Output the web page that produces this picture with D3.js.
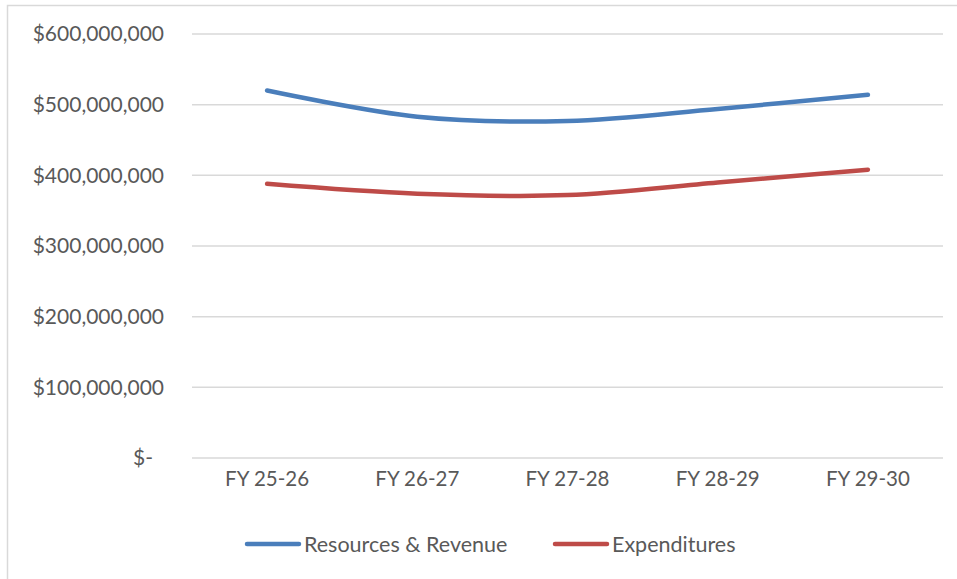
<!DOCTYPE html>
<html>
<head>
<meta charset="utf-8">
<script src="https://cdn.jsdelivr.net/npm/d3@7"></script>
<style>
body { margin: 0; background: #fff; }
text { font-family: Lato, "Open Sans", sans-serif; fill: #595959; }
</style>
</head>
<body>
<div id="chart"></div>
<script>
var years = ["FY 25-26", "FY 26-27", "FY 27-28", "FY 28-29", "FY 29-30"];
var revenue = [520000000, 483000000, 477000000, 494000000, 514000000];
var expenditures = [388000000, 374000000, 372000000, 390000000, 408000000];
var yTicks = [0, 100000000, 200000000, 300000000, 400000000, 500000000, 600000000];
var seriesNames = ["Resources & Revenue", "Expenditures"];
var seriesColors = ["#4a7ebb", "#be4b48"];

var width = 957,
height = 579,
margin = {top: 34, right: 14, bottom: 121, left: 192};

var svg = d3.select("#chart")
.append("svg")
.attr("width", width)
.attr("height", height);

// chart border (cut off at the right and bottom)
svg.append("rect")
.attr("x", 7.5).attr("y", 5.5)
.attr("width", 960).attr("height", 600)
.attr("fill", "none")
.attr("stroke", "#d9d9d9")
.attr("stroke-width", 1.5);

var g = svg.append("g")
.attr("transform", `translate(${margin.left},${margin.top})`);

var innerW = width - margin.left - margin.right,
innerH = height - margin.top - margin.bottom;

var xScale = d3.scaleBand().domain(years).range([0, innerW]);
var yScale = d3.scaleLinear().domain([0, 600000000]).range([innerH, 0]);

// gridlines
g.selectAll(".grid")
.data(yTicks)
.enter().append("line")
.attr("class", "grid")
.attr("x1", 0).attr("x2", innerW)
.attr("y1", d => yScale(d)).attr("y2", d => yScale(d))
.attr("stroke", "#d9d9d9")
.attr("stroke-width", 1.5);

var fmt = d3.format(",");

// y axis labels
var yAxis = d3.axisLeft(yScale)
.tickValues(yTicks)
.tickSize(0)
.tickPadding(28)
.tickFormat(d => d === 0 ? "$-" : "$" + fmt(d));
var ya = g.append("g").attr("class", "y axis").call(yAxis);
ya.select(".domain").remove();
ya.selectAll("text")
.attr("font-size", 21)
.attr("font-family", "Lato")
.attr("fill", "#595959")
.attr("dx", d => d === 0 ? -11 : 0);

// x axis labels
var xAxis = d3.axisBottom(xScale).tickSize(0).tickPadding(13);
var xa = g.append("g").attr("class", "x axis")
.attr("transform", `translate(0,${innerH})`)
.call(xAxis);
xa.select(".domain").remove();
xa.selectAll("text")
.attr("font-size", 20.5)
.attr("font-family", "Lato")
.attr("fill", "#595959");

var line = d3.line()
.x((d, i) => xScale(years[i]) + xScale.bandwidth() / 2)
.y(d => yScale(d))
.curve(d3.curveCatmullRom.alpha(0));

[revenue, expenditures].forEach(function(s, i) {
  g.append("path")
  .datum(s)
  .attr("fill", "none")
  .attr("stroke", seriesColors[i])
  .attr("stroke-width", 4.5)
  .attr("stroke-linecap", "round")
  .attr("d", line);
});

// legend
var legendX = [247, 555];
var legend = svg.selectAll(".legend")
.data(seriesNames)
.enter().append("g")
.attr("class", "legend")
.attr("transform", (d, i) => `translate(${legendX[i]},544)`);
legend.append("line")
.attr("x1", 0).attr("x2", 52)
.attr("stroke", (d, i) => seriesColors[i])
.attr("stroke-width", 4.5)
.attr("stroke-linecap", "round");
legend.append("text")
.attr("x", 57)
.attr("dy", "0.35em")
.attr("font-size", 21.5)
.text(d => d);
</script>
</body>
</html>
